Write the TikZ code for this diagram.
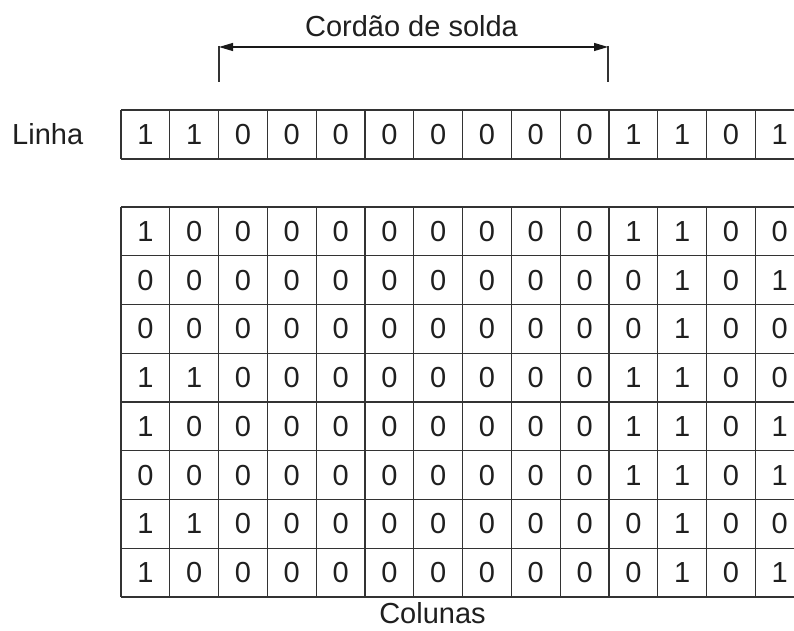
\documentclass[tikz,border=0pt]{standalone}
\usepackage{fontspec}
\setmainfont{Liberation Sans}
\usetikzlibrary{arrows.meta}
\begin{document}
\begin{tikzpicture}[x=1pt,y=1pt,
  gridline/.style={line width=1.3pt, draw=black!80},
  tickline/.style={line width=1.3pt, draw=black!80},
  dimarrow/.style={line width=1.2pt, draw=black!90, {Triangle[length=14pt,width=8pt]}-{Triangle[length=14pt,width=8pt]}},
  digit/.style={font=\fontsize{29}{34}\selectfont, text=black!88, inner sep=0pt, anchor=center},
  lbl/.style={font=\fontsize{29}{34}\selectfont, text=black!88, inner sep=0pt}]
\useasboundingbox (0,0) rectangle (794,630);
\begin{scope}
\clip (0,0) rectangle (794,630);
% single row
\draw[gridline] (121,520) -- (804,520) (121,471) -- (804,471);
\foreach \k in {0,...,14} \draw[gridline] ({121+48.8*\k},520) -- ({121+48.8*\k},471);
% matrix
\foreach \j in {0,...,8} \draw[gridline] (121,{423-48.75*\j}) -- (804,{423-48.75*\j});
\foreach \k in {0,...,14} \draw[gridline] ({121+48.8*\k},423) -- ({121+48.8*\k},33);
\end{scope}
% digits of the single row
\foreach \d [count=\c] in {1,1,0,0,0,0,0,0,0,0,1,1,0,1}
  \node[digit] (t-\c) at ({121+48.8*(\c-0.5)},495.5) {\d};
% digits of the matrix
\foreach \row [count=\r] in {
  {1,0,0,0,0,0,0,0,0,0,1,1,0,0},
  {0,0,0,0,0,0,0,0,0,0,0,1,0,1},
  {0,0,0,0,0,0,0,0,0,0,0,1,0,0},
  {1,1,0,0,0,0,0,0,0,0,1,1,0,0},
  {1,0,0,0,0,0,0,0,0,0,1,1,0,1},
  {0,0,0,0,0,0,0,0,0,0,1,1,0,1},
  {1,1,0,0,0,0,0,0,0,0,0,1,0,0},
  {1,0,0,0,0,0,0,0,0,0,0,1,0,1}}
{
  \foreach \d [count=\c] in \row
    \node[digit] (m-\r-\c) at ({121+48.8*(\c-0.5)},{423-48.75*(\r-0.5)}) {\d};
}
% labels
\node[lbl, anchor=base west] (linha) at (12,485) {Linha};
\node[lbl, anchor=base] (colunas) at (432.5,7) {Colunas};
\node[lbl, anchor=base] (cordao) at (411.5,593) {Cordão de solda};
% dimension
\coordinate (tl1) at (219,584);
\coordinate (tl2) at (219,548);
\coordinate (tr1) at (608,584);
\coordinate (tr2) at (608,548);
\coordinate (al) at (219,583);
\coordinate (ar) at (608,583);
\draw[tickline] (tl1) -- (tl2);
\draw[tickline] (tr1) -- (tr2);
\draw[dimarrow] (al) -- (ar);
\end{tikzpicture}
\end{document}
